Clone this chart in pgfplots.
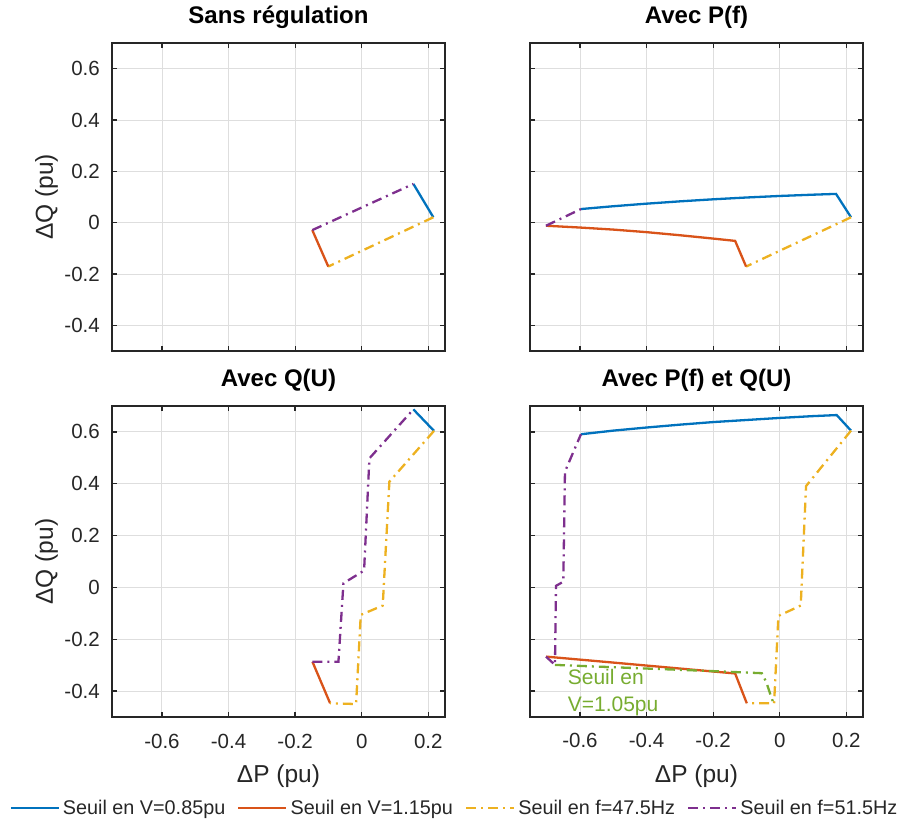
\documentclass[border=0pt]{standalone}
\usepackage{fontspec}
\setmainfont{Liberation Sans}
\usepackage{pgfplots}
\pgfplotsset{compat=1.18}
\definecolor{mblue}{HTML}{0072BD}
\definecolor{mred}{HTML}{D95319}
\definecolor{myellow}{HTML}{EDB120}
\definecolor{mpurple}{HTML}{7E2F8E}
\definecolor{mgreen}{HTML}{77AC30}
\definecolor{axc}{HTML}{262626}
\definecolor{gridc}{HTML}{DEDEDE}
\tikzset{dashdot/.style={dash pattern=on 10bp off 5bp on 2bp off 5bp}}
\pgfplotsset{
  mystyle/.style={
    scale only axis, width=333bp,
    xmin=-0.75, xmax=0.25, ymin=-0.5, ymax=0.7,
    xtick={-0.6,-0.4,-0.2,0,0.2}, ytick={-0.4,-0.2,0,0.2,0.4,0.6},
    xticklabels={-0.6,-0.4,-0.2,0,0.2}, yticklabels={-0.4,-0.2,0,0.2,0.4,0.6},
    grid=major, major grid style={color=gridc, line width=0.9bp},
    tick align=inside, major tick length=5bp,
    every tick/.style={color=axc, line width=1.3bp},
    axis line style={color=axc, line width=1.6bp},
    tick label style={font=\fontsize{20.5bp}{24bp}\selectfont, text=axc},
    xticklabel style={anchor=base, inner sep=0pt, yshift=-31bp},
    yticklabel style={anchor=east, inner sep=0pt, xshift=-12bp},
    title style={font=\bfseries\fontsize{24bp}{28bp}\selectfont, at={(axis description cs:0.5,1)}, anchor=base, yshift=13.5bp, inner sep=0pt},
    label style={font=\fontsize{24.5bp}{28bp}\selectfont, text=axc},
    xlabel style={at={(axis description cs:0.5,-0.2122)}, anchor=base, inner sep=0pt},
    ylabel style={at={(axis description cs:-0.1772,0.5)}, anchor=base, inner sep=0pt},
    every axis plot/.append style={line width=2.3bp},
  }
}
\begin{document}
\begin{tikzpicture}
\useasboundingbox (0,0) rectangle (899bp,825bp);
% Top-left
\begin{axis}[mystyle, height=308bp, at={(112bp,474bp)}, anchor=south west,
  xticklabels={}, title={Sans régulation}, ylabel={ΔQ (pu)}]
\addplot[mblue] coordinates {(0.155,0.151) (0.215,0.021)};
\addplot[myellow, dashdot] coordinates {(0.215,0.021) (-0.1005,-0.171)};
\addplot[mred] coordinates {(-0.1005,-0.171) (-0.1485,-0.029)};
\addplot[mpurple, dashdot] coordinates {(-0.1485,-0.029) (0.155,0.151)};
\end{axis}
% Top-right
\begin{axis}[mystyle, height=308bp, at={(530bp,474bp)}, anchor=south west,
  xticklabels={}, yticklabels={}, title={Avec P(f)}]
\addplot[mblue] coordinates {(-0.597,0.053) (-0.5,0.064) (-0.4,0.074) (-0.3,0.083) (-0.2,0.091) (-0.1,0.098) (0,0.104) (0.1,0.109) (0.169,0.112) (0.214,0.021)};
\addplot[myellow, dashdot] coordinates {(0.214,0.021) (-0.101,-0.171)};
\addplot[mred] coordinates {(-0.101,-0.171) (-0.134,-0.071) (-0.2,-0.062) (-0.3,-0.049) (-0.4,-0.037) (-0.5,-0.027) (-0.6,-0.019) (-0.702,-0.012)};
\addplot[mpurple, dashdot] coordinates {(-0.702,-0.012) (-0.597,0.053)};
\end{axis}
% Bottom-left
\begin{axis}[mystyle, height=311bp, at={(112bp,108bp)}, anchor=south west,
  title={Avec Q(U)}, ylabel={ΔQ (pu)}, xlabel={ΔP (pu)},
  legend style={at={(axis description cs:1.0255,-0.2926)}, anchor=center, draw=none, fill=none,
    legend columns=4, font=\fontsize{19.8bp}{23bp}\selectfont, text=axc,
    /tikz/every odd column/.append style={column sep=3bp},
    /tikz/every even column/.append style={column sep=12bp}, inner sep=0pt,
    nodes={inner sep=0pt}},
  legend image code/.code={\draw[#1] (0bp,0bp) -- (48bp,0bp);}]
\addplot[mblue] coordinates {(0.155,0.687) (0.217,0.604)};
\addlegendentry{Seuil en V=0.85pu}
\addplot[mred] coordinates {(-0.095,-0.447) (-0.148,-0.287)};
\addlegendentry{Seuil en V=1.15pu}
\addplot[myellow, dashdot] coordinates {(0.217,0.604) (0.083,0.408) (0.063,-0.070) (-0.003,-0.106) (-0.017,-0.450) (-0.095,-0.447)};
\addlegendentry{Seuil en f=47.5Hz}
\addplot[mpurple, dashdot] coordinates {(-0.148,-0.287) (-0.070,-0.287) (-0.055,0.016) (0.007,0.065) (0.023,0.498) (0.155,0.687)};
\addlegendentry{Seuil en f=51.5Hz}
\end{axis}
% Bottom-right
\begin{axis}[mystyle, height=311bp, at={(530bp,108bp)}, anchor=south west,
  yticklabels={}, title={Avec P(f) et Q(U)}, xlabel={ΔP (pu)}]
\addplot[mblue] coordinates {(-0.597,0.591) (-0.5,0.605) (-0.4,0.617) (-0.3,0.628) (-0.2,0.638) (-0.1,0.646) (0,0.654) (0.1,0.661) (0.171,0.665) (0.214,0.605)};
\addplot[myellow, dashdot] coordinates {(0.214,0.605) (0.079,0.391) (0.063,-0.070) (-0.004,-0.110) (-0.017,-0.447) (-0.099,-0.447)};
\addplot[mred] coordinates {(-0.099,-0.447) (-0.134,-0.332) (-0.3,-0.313) (-0.5,-0.290) (-0.702,-0.267)};
\addplot[mpurple, dashdot] coordinates {(-0.702,-0.267) (-0.675,-0.299) (-0.672,0.006) (-0.650,0.022) (-0.645,0.447) (-0.597,0.591)};
\addplot[mgreen, dashdot] coordinates {(-0.675,-0.299) (-0.4,-0.313) (-0.2,-0.323) (-0.054,-0.331) (-0.041,-0.364) (-0.019,-0.447)};
\node[anchor=base west, inner sep=0pt, text=mgreen, font=\fontsize{21bp}{24bp}\selectfont] at (axis cs:-0.637,-0.376) {Seuil en};
\node[anchor=base west, inner sep=0pt, text=mgreen, font=\fontsize{21bp}{24bp}\selectfont] at (axis cs:-0.637,-0.479) {V=1.05pu};
\end{axis}
\end{tikzpicture}
\end{document}
